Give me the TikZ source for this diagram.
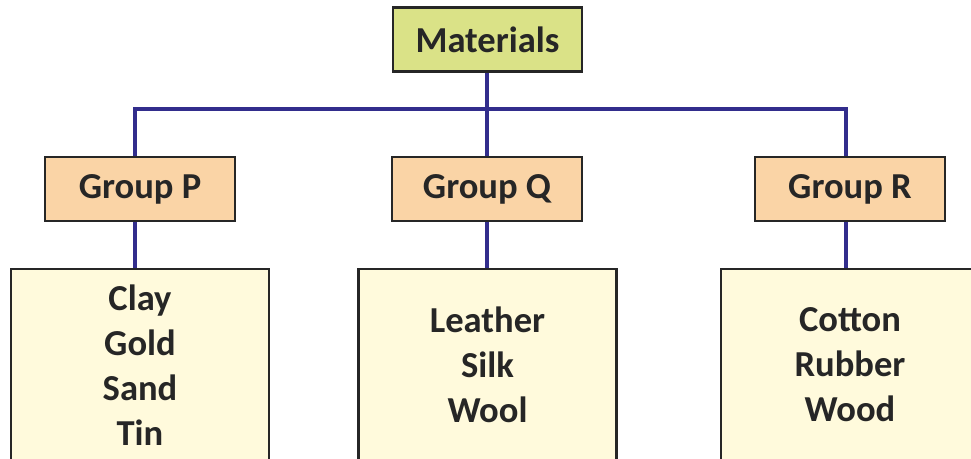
\documentclass[tikz,border=0pt]{standalone}
\usepackage{fontspec}
\setmainfont{Carlito}
\usepackage{tikz}

\definecolor{linkblue}{RGB}{50,45,140}
\definecolor{matfill}{RGB}{218,226,135}
\definecolor{grpfill}{RGB}{250,212,166}
\definecolor{listfill}{RGB}{255,250,220}
\definecolor{inkgray}{RGB}{38,38,38}

\begin{document}
\begin{tikzpicture}[
    x=0.025cm,y=-0.025cm,
    box/.style={draw=inkgray,line width=1.5pt,text=inkgray,align=center,
      font=\bfseries\fontsize{26}{32}\selectfont,inner sep=0pt},
    matbox/.style={box,fill=matfill,minimum width=4.72cm,minimum height=1.6cm},
    grpbox/.style={box,fill=grpfill,minimum width=4.75cm,minimum height=1.6cm},
    listbox/.style={box,fill=listfill,minimum width=6.45cm,minimum height=4.8cm},
    link/.style={draw=linkblue,line width=2.6pt}
    ]
    \useasboundingbox (0, 0) rectangle (971, 459);
    \clip (0, 0) rectangle (971, 459);
    \node[matbox] (mat) at (487.5, 39.5) {Materials};
    \node[grpbox] (gP) at (140, 189) {Group P};
    \node[grpbox] (gQ) at (487, 189) {Group Q};
    \node[grpbox] (gR) at (850, 189) {Group R};
    \node[listbox,anchor=north] (lP) at (140, 268) {Clay\\Gold\\Sand\\Tin};
    \node[listbox,anchor=north] (lQ) at (487.5, 268) {Leather\\Silk\\Wool};
    \node[listbox,anchor=north] (lR) at (850, 268) {Cotton\\Rubber\\Wood};
    \coordinate (jP) at (135, 109);
    \coordinate (jQ) at (487, 109);
    \coordinate (jR) at (846, 109);
    \draw[link] (mat.south -| jQ) -- (gQ.north -| jQ);
    \draw[link] (gP.north -| jP) -- (jP) -- (jR) -- (gR.north -| jR);
    \draw[link] (gP.south -| jP) -- (lP.north -| jP);
    \draw[link] (gQ.south -| jQ) -- (lQ.north -| jQ);
    \draw[link] (gR.south -| jR) -- (lR.north -| jR);
  \end{tikzpicture}
\end{document}
